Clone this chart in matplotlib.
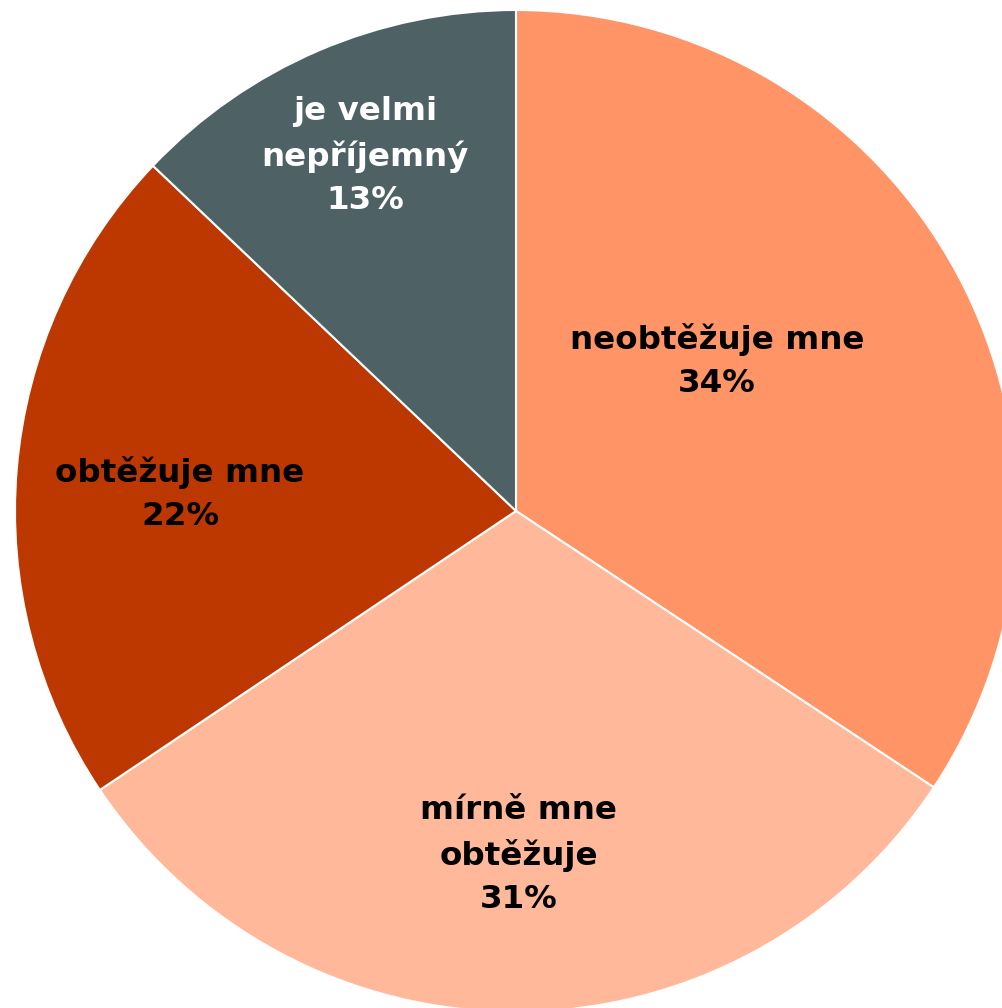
import matplotlib
matplotlib.use("Agg")
import matplotlib.pyplot as plt

categories = ["neobtěžuje mne", "mírně mne\nobtěžuje", "obtěžuje mne", "je velmi\nnepříjemný"]
values = [34.3, 31.3, 21.5, 12.9]
pct_labels = ["34%", "31%", "22%", "13%"]
colors = ["#FF9466", "#FFB899", "#BD3800", "#4E6266"]
text_colors = ["black", "black", "black", "white"]
# label anchor positions (pixel coordinates in the 1003x1008 image)
label_px = [(717, 361), (519, 855), (180, 494), (365, 156)]

W, H = 1003, 1008
cx, cy, R = 516, 511, 501

fig = plt.figure(figsize=(W / 100, H / 100), dpi=100)
ax = fig.add_axes([0, 0, 1, 1])

ax.pie(values, colors=colors, startangle=90, counterclock=False, radius=1,
       center=(0, 0), frame=True,
       wedgeprops=dict(edgecolor="white", linewidth=1.5))
ax.set_aspect("auto")
ax.set_xlim(-cx / R, (W - cx) / R)
ax.set_ylim(-(H - cy) / R, cy / R)
ax.axis("off")

for cat, pct, tc, (px, py) in zip(categories, pct_labels, text_colors, label_px):
    ax.text((px - cx) / R, (cy - py) / R, f"{cat}\n{pct}", ha="center", va="center",
            fontsize=23.4, fontweight="bold", color=tc, family="DejaVu Sans",
            linespacing=1.5)

fig.savefig("out.png", dpi=100)
